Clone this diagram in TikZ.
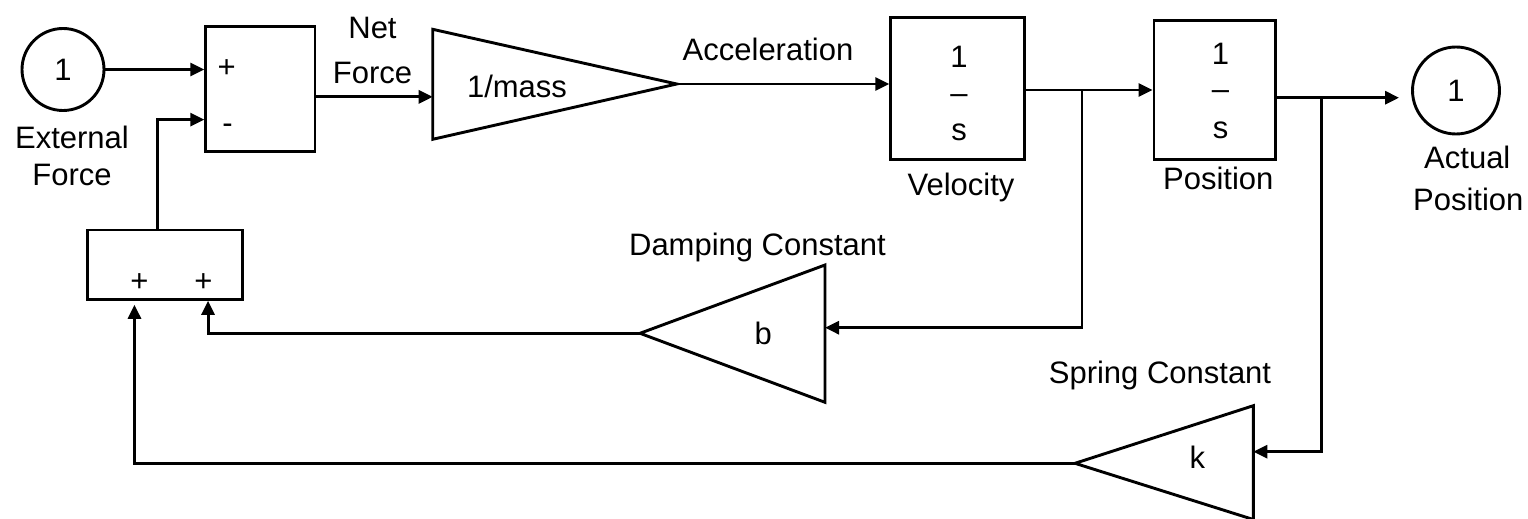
\documentclass[tikz,border=0pt]{standalone}
\usepackage{fontspec}
\setmainfont{Liberation Sans}
\usetikzlibrary{arrows.meta,calc}
\begin{document}
\begin{tikzpicture}[x=0.5pt,y=-0.5pt,
  line width=1.45pt,
  every node/.style={font=\fontsize{15.5}{18.6}\selectfont},
  blk/.style={draw, rectangle, inner sep=0pt},
  port/.style={draw, circle, inner sep=0pt},
  lbl/.style={inner sep=0pt, anchor=base},
  arr/.style={-{Triangle[length=7pt,width=6.5pt]}},
  gain/.style={draw}]
\useasboundingbox (0,0) rectangle (1528,519);

% input port
\node[port, minimum size=41pt] (in1) at (63,69.5) {1};
\node[lbl] (ext1) at (72,149) {External};
\node[lbl] (ext2) at (72,185.5) {Force};

% first sum block
\node[blk, minimum width=54.65pt, minimum height=62.5pt] (sum1) at (260.35,89.2) {};
\node[lbl] (s1p) at (226.7,78) {+};
\node[lbl] (s1n) at (227.5,133.6) {-};
\node[lbl] (nf1) at (372.5,38.5) {Net};
\node[lbl] (nf2) at (372.5,83.5) {Force};

% 1/mass gain
\coordinate (m1a) at (432.7,29.3);
\coordinate (m1b) at (432.7,139.3);
\coordinate (m1t) at (676.7,84);
\coordinate (m1in) at (432.7,96.7);
\draw[gain] (m1a) -- (m1t) -- (m1b) -- cycle;
\node[lbl] (m1l) at (517,98) {1/mass};
\node[lbl] (acc) at (768,61) {Acceleration};

% velocity integrator
\node[blk, minimum width=66.8pt, minimum height=71pt] (vel) at (957.5,88.3) {};
\node[lbl] (v1) at (959,67.7) {1};
\node[lbl] (v2) at (959,103.6) {–};
\node[lbl] (v3) at (959,141) {s};
\node[lbl] (vl) at (961,196) {Velocity};

% position integrator
\node[blk, minimum width=60.85pt, minimum height=69.3pt] (pos) at (1214.85,90) {};
\node[lbl] (p1) at (1220.5,65) {1};
\node[lbl] (p2) at (1220.5,100) {–};
\node[lbl] (p3) at (1220.5,139) {s};
\node[lbl] (pl) at (1218.3,190) {Position};

% output port
\node[port, minimum size=43.5pt] (out) at (1456,90.5) {1};
\node[lbl] (ap1) at (1467.3,168.5) {Actual};
\node[lbl] (ap2) at (1468.3,211) {Position};

% second sum block
\node[blk, minimum width=77.7pt, minimum height=34.65pt] (sum2) at (165,264.65) {};
\node[lbl] (s2p1) at (139.5,291.7) {+};
\node[lbl] (s2p2) at (203.3,291.7) {+};

% damping gain
\coordinate (ba) at (825,265);
\coordinate (bb) at (825,402.3);
\coordinate (bt) at (640,333.3);
\coordinate (bin) at (825,327.7);
\draw[gain] (ba) -- (bt) -- (bb) -- cycle;
\node[lbl] (bl) at (763.3,344) {b};
\node[lbl] (dc) at (757.5,256) {Damping Constant};

% spring gain
\coordinate (ka) at (1253.3,405.7);
\coordinate (kb) at (1253.3,519.5);
\coordinate (kt) at (1075,463.3);
\coordinate (kin) at (1253.3,451.7);
\draw[gain] (ka) -- (kt) -- (kb) -- cycle;
\node[lbl] (kl) at (1197.3,468.5) {k};
\node[lbl] (sc) at (1160,383) {Spring Constant};

% ports on blocks
\coordinate (s1m) at ($(sum1.north west)!0.738!(sum1.south west)$);
\coordinate (s1o) at ($(sum1.north east)!0.56!(sum1.south east)$);
\coordinate (s2top) at ($(sum2.north west)!0.45!(sum2.north east)$);
\coordinate (s2r) at ($(sum2.south west)!0.772!(sum2.south east)$);
\coordinate (s2l) at ($(sum2.south west)!0.307!(sum2.south east)$);
\coordinate (vj) at (1082,90);
\coordinate (pj) at (1321.7,97.7);

% connectors
\draw[arr] (in1.east) -- (in1.east -| sum1.west);
\draw[arr] (s2top) |- (s1m);
\draw[arr] (s1o) -- (s1o -| m1in);
\draw[arr] (m1t) -- (m1t -| vel.west);
\draw[arr] (vj -| vel.east) -- (vj -| pos.west);
\draw[arr] (vj) |- (bin);
\draw[arr, shorten >=6pt] (pj -| pos.east) -- (pj -| out.west);
\draw[arr] (pj) |- (kin);
\draw[arr] (bt) -| (s2r);
\draw[arr, shorten >=2pt] (kt) -| (s2l);
\end{tikzpicture}
\end{document}
